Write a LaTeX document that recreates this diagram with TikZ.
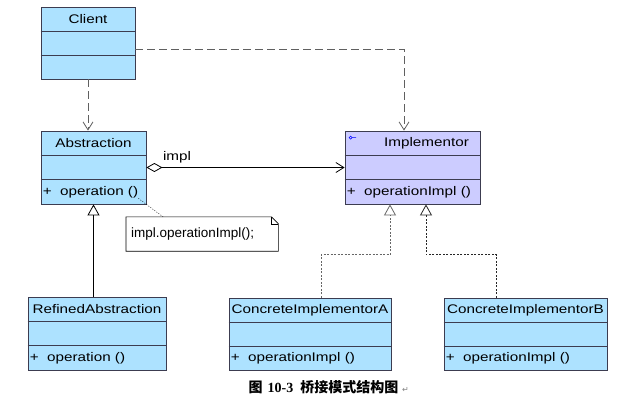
\documentclass[tikz,border=0pt]{standalone}
\usepackage{fontspec}
\setmainfont{Liberation Sans}[FakeStretch=1.22]
\newfontfamily\notefont{Liberation Sans}
\newfontfamily\cjkfont{Noto Sans CJK SC}
\newfontfamily\capfont{Liberation Serif}
\newfontfamily\symfont{DejaVu Sans}
\usepackage{xcolor}
\usepackage{tikz}
\usetikzlibrary{arrows.meta, positioning, calc}

\definecolor{clsblue}{RGB}{173,226,255}
\definecolor{ifcpurple}{RGB}{204,204,255}
\definecolor{clsborder}{RGB}{60,60,80}

\tikzset{
  cls/.style={draw=clsborder, fill=clsblue, line width=0.8pt, inner sep=0pt},
  ifc/.style={cls, fill=ifcpurple},
  title/.style={font=\fontsize{12.5}{14}\selectfont},
  op/.style={font=\fontsize{12.5}{14}\selectfont, anchor=west, inner sep=0pt},
  dep/.style={draw=gray!75!black, line width=0.8pt, dash pattern=on 8pt off 4pt,
    -{Straight Barb[length=8pt,width=10pt]}},
  assoc/.style={line width=0.8pt, {Diamond[open,length=16pt,width=9pt]}-{Straight Barb[length=8pt,width=10pt]}},
  gen/.style={line width=0.8pt, -{Triangle[open,length=11pt,width=12pt]}},
  realize/.style={gen, draw=gray!80!black, dash pattern=on 2pt off 1.5pt},
}

\begin{document}
\begin{tikzpicture}[x=1pt, y=-1pt]
    \useasboundingbox (0,0) rectangle (640,400);

    % class boxes
    \node (client) at (88,43) [cls, minimum width=94pt, minimum height=72pt] {};
    \node (abs) at (93.5,167.5) [cls, minimum width=105pt, minimum height=73pt] {};
    \node (impl) at (412.5,167.5) [ifc, minimum width=135pt, minimum height=73pt] {};
    \node (refined) at (97,333.5) [cls, minimum width=138pt, minimum height=73pt] {};
    \node (concA) at (310,334) [cls, minimum width=162pt, minimum height=72pt] {};
    \node (concB) at (525.5,334) [cls, minimum width=163pt, minimum height=72pt] {};

    \foreach \n in {client,abs,impl,refined,concA,concB}
        \draw[clsborder, line width=0.8pt]
            ([yshift=-24.5pt]\n.north west) -- ([yshift=-24.5pt]\n.north east)
            ([yshift=-48.5pt]\n.north west) -- ([yshift=-48.5pt]\n.north east);

    % titles and operations
    \node (client-t) at ([yshift=-12.5pt]client.north) [title] {Client};
    \node (abs-t) at ([yshift=-12.5pt]abs.north) [title] {Abstraction};
    \node (impl-t) at ([xshift=14pt,yshift=-12.5pt]impl.north) [title] {Implementor};
    \node (refined-t) at ([yshift=-12.5pt]refined.north) [title] {RefinedAbstraction};
    \node (concA-t) at ([yshift=-12.5pt]concA.north) [title] {ConcreteImplementorA};
    \node (concB-t) at ([yshift=-12.5pt]concB.north) [title] {ConcreteImplementorB};

    \node (abs-op) at ([xshift=2pt,yshift=12pt]abs.south west) [op] {+\ \ operation ()};
    \node (impl-op) at ([xshift=2pt,yshift=12pt]impl.south west) [op] {+\ \ operationImpl ()};
    \node (refined-op) at ([xshift=2pt,yshift=12pt]refined.south west) [op] {+\ \ operation ()};
    \node (concA-op) at ([xshift=2pt,yshift=12pt]concA.south west) [op] {+\ \ operationImpl ()};
    \node (concB-op) at ([xshift=2pt,yshift=12pt]concB.south west) [op] {+\ \ operationImpl ()};

    % interface mark
    \draw[blue, line width=0.6pt] ([xshift=6pt,yshift=-7pt]impl.north west) circle (1.5)
        ++(1.5,0) -- ++(4,0);

    % note
    \node (note) at (126,234) [anchor=west, minimum width=152pt, minimum height=34pt,
        inner xsep=5pt, inner ysep=0pt, text width=142pt, align=left,
        font=\notefont\fontsize{13.5}{15}\selectfont] {impl.operationImpl();};
    \draw[line width=0.6pt] (note.north west) -- ([xshift=-7pt]note.north east)
        -- ([yshift=-7pt]note.north east) -- (note.south east) -- (note.south west) -- cycle;
    \draw[line width=0.5pt] ([xshift=-7pt]note.north east) |- ([yshift=-7pt]note.north east);
    \draw[line width=0.5pt, dash pattern=on 1pt off 1.5pt]
        ([xshift=-8pt,yshift=6pt]abs.south east) -- ([xshift=37pt]note.north west);

    % connectors
    \draw[dep] (client.south) -- (client.south |- abs.north);
    \draw[dep] ([yshift=-6pt]client.east) -| ([xshift=-8.5pt]impl.north);
    \draw[assoc] (abs.east) -- (impl.west);
    \node (impl-lbl) at (177,157) [title] {impl};
    \draw[gen] (abs.south |- refined.north) -- (abs.south);
    \draw[realize] ([xshift=11pt]concA.north) -- ++(0,-43) -| ([xshift=-22.5pt]impl.south);
    \draw[realize, draw=black!85] ([xshift=-29.5pt]concB.north) -- ++(0,-43) -| ([xshift=13.5pt]impl.south);

    % caption
    \node (caption) at (323.5,387) [font=\fontsize{14}{16}\selectfont]
        {\cjkfont\bfseries 图\hspace{5pt}{\capfont\bfseries 10-3}\hspace{7pt}桥接模式结构图};
    \node (ret) [right=0pt of caption, inner sep=0pt, text=gray,
        font=\symfont\fontsize{8}{9}\selectfont, yshift=-3pt] {↵};
\end{tikzpicture}
\end{document}
